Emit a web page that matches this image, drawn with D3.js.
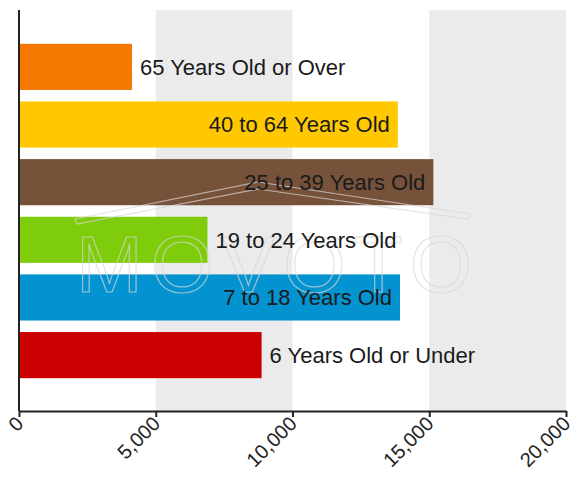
<!DOCTYPE html>
<html>
<head>
<meta charset="utf-8">
<script src="https://cdn.jsdelivr.net/npm/d3@7"></script>
<style>
  body { margin: 0; background: #fff; }
  svg { display: block; font-family: "Liberation Sans", Arial, sans-serif; }
</style>
</head>
<body>
<svg id="chart" width="575" height="483"></svg>
<script>
// age groups, top to bottom
var categories = ['65 Years Old or Over', '40 to 64 Years Old', '25 to 39 Years Old',
                  '19 to 24 Years Old', '7 to 18 Years Old', '6 Years Old or Under'];
var values = [4130, 13850, 15150, 6890, 13930, 8870];
var colors = ['#f57800', '#ffc800', '#77523a', '#7ecc0a', '#0493d1', '#cc0000'];
// label sits inside the bar when it fits
var inside = [false, true, true, false, true, false];
var ticks = [0, 5000, 10000, 15000, 20000];

var plotLeft = 19, plotRight = 566, plotTop = 10, plotBottom = 411;

var svg = d3.select('#chart');

var x = d3.scaleLinear().domain([0, 20000]).range([plotLeft, plotRight]);
var y = d3.scaleBand().domain(categories).range([15, 407])
  .paddingInner(0.2).paddingOuter(0.5);

// alternating grey bands
var bands = d3.pairs(ticks).filter(function(d, i){ return i % 2 === 1; });
svg.selectAll('rect.band')
  .data(bands)
  .enter().append('rect')
  .attr('class', 'band')
  .attr('x', function(d){ return x(d[0]); })
  .attr('width', function(d){ return x(d[1]) - x(d[0]); })
  .attr('y', plotTop)
  .attr('height', plotBottom - plotTop)
  .style('fill', '#ebebeb');

svg.selectAll('rect.bar')
  .data(categories)
  .enter().append('rect')
  .attr('class', 'bar')
  .attr('x', x(0))
  .attr('y', function(d){ return y(d); })
  .attr('width', function(d, i){ return x(values[i]) - x(0); })
  .attr('height', y.bandwidth())
  .style('fill', function(d, i){ return colors[i]; });

// faint watermark
var wm = svg.append('g').style('pointer-events', 'none');
wm.append('path')
  .attr('d', 'M75,219 L258,182 L470,214 L468,219 L258,189 L77,224 Z')
  .style('fill', 'none')
  .style('stroke', 'rgba(215,215,215,0.7)')
  .style('stroke-width', 1.2);
wm.append('text')
  .attr('x', 76)
  .attr('y', 292)
  .attr('textLength', 396)
  .style('font-size', '80px')
  .style('fill', 'none')
  .style('stroke', 'rgba(215,215,215,0.7)')
  .style('stroke-width', 1.2)
  .text('MOVOTO');

svg.selectAll('text.label')
  .data(categories)
  .enter().append('text')
  .attr('class', 'label')
  .attr('x', function(d, i){ return inside[i] ? x(values[i]) - 8 : x(values[i]) + 8; })
  .attr('y', function(d){ return y(d) + y.bandwidth() / 2; })
  .attr('dy', '0.36em')
  .attr('text-anchor', function(d, i){ return inside[i] ? 'end' : 'start'; })
  .style('font-size', '22px')
  .style('fill', '#1a1a1a')
  .text(function(d){ return d; });

// axes
svg.append('line')
  .attr('x1', plotLeft).attr('x2', plotLeft)
  .attr('y1', plotTop).attr('y2', plotBottom)
  .style('stroke', '#222').style('stroke-width', 2);

var xAxis = svg.append('g')
  .attr('transform', 'translate(0,' + plotBottom + ')')
  .call(d3.axisBottom(x).tickValues(ticks).tickSize(6).tickSizeOuter(0).tickFormat(d3.format(',')));
xAxis.select('.domain').style('stroke', '#222').style('stroke-width', 2);
xAxis.selectAll('.tick line').style('stroke', '#222').style('stroke-width', 2);
xAxis.selectAll('.tick text')
  .style('font-size', '20px')
  .style('fill', '#222')
  .attr('text-anchor', 'end')
  .attr('dy', null)
  .attr('y', 0)
  .attr('transform', 'translate(5,14) rotate(-45)');
</script>
</body>
</html>
